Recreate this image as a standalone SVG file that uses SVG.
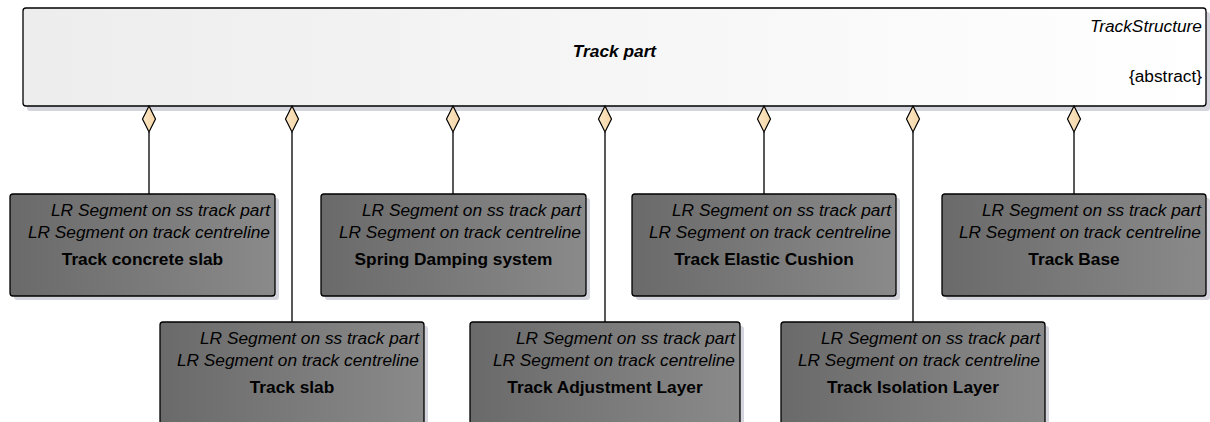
<svg xmlns="http://www.w3.org/2000/svg" width="1210" height="422" viewBox="0 0 1210 422">
<defs>
<linearGradient id="gTop" x1="0" y1="0" x2="1" y2="0">
<stop offset="0" stop-color="#ededed"/>
<stop offset="1" stop-color="#ffffff"/>
</linearGradient>
<linearGradient id="gBox" x1="0" y1="0" x2="1" y2="0">
<stop offset="0" stop-color="#6a6a6a"/>
<stop offset="1" stop-color="#8a8a8a"/>
</linearGradient>
<linearGradient id="gDia" x1="0" y1="0" x2="1" y2="0">
<stop offset="0" stop-color="#fbe6c6"/>
<stop offset="1" stop-color="#f5d6a6"/>
</linearGradient>
</defs>
<style>
.top{fill:url(#gTop);stroke:#000;stroke-width:1.3}
.box{fill:url(#gBox);stroke:#000;stroke-width:1.3}
.shd{fill:#d4d4dc}
.it{font-family:"Liberation Sans",Arial,sans-serif;font-style:italic;font-size:17.3px;fill:#000;text-anchor:end}
.ttl{font-family:"Liberation Sans",Arial,sans-serif;font-weight:bold;font-size:17.3px;fill:#000;text-anchor:middle}
.ab{font-family:"Liberation Sans",Arial,sans-serif;font-size:17.3px;fill:#000;text-anchor:end}
.ln{stroke:#000;stroke-width:1.3;fill:none}
.dia{fill:url(#gDia);stroke:#000;stroke-width:1.2}
</style>
<rect x="0" y="0" width="1210" height="422" fill="#fff"/>
<g id="TrackPart">
<rect class="shd" x="27" y="12" width="1183" height="99" rx="3"/>
<rect class="top" x="23" y="8" width="1183" height="98" rx="3"/>
<text class="it" x="1202" y="32">TrackStructure</text>
<text class="ttl" x="614.5" y="57" font-style="italic">Track part</text>
<text class="ab" x="1202" y="82">{abstract}</text>
</g>
<g id="connectors">
<path class="ln" d="M149 132V194M292 132V322M453 132V194M605 132V322M764 132V194M913 132V322M1074 132V194"/>
<path class="dia" d="M149 106L155.5 119L149 132L142.5 119Z"/>
<path class="dia" d="M292 106L298.5 119L292 132L285.5 119Z"/>
<path class="dia" d="M453 106L459.5 119L453 132L446.5 119Z"/>
<path class="dia" d="M605 106L611.5 119L605 132L598.5 119Z"/>
<path class="dia" d="M764 106L770.5 119L764 132L757.5 119Z"/>
<path class="dia" d="M913 106L919.5 119L913 132L906.5 119Z"/>
<path class="dia" d="M1074 106L1080.5 119L1074 132L1067.5 119Z"/>
</g>
<g id="TrackConcreteSlab">
<rect class="shd" x="14" y="198" width="265" height="102" rx="3"/>
<rect class="box" x="10" y="194" width="265" height="102" rx="3"/>
<text class="it" x="270" y="216">LR Segment on ss track part</text>
<text class="it" x="270" y="238">LR Segment on track centreline</text>
<text class="ttl" x="142.5" y="265">Track concrete slab</text>
</g>
<g id="SpringDampingSystem">
<rect class="shd" x="325" y="198" width="265" height="102" rx="3"/>
<rect class="box" x="321" y="194" width="265" height="102" rx="3"/>
<text class="it" x="581" y="216">LR Segment on ss track part</text>
<text class="it" x="581" y="238">LR Segment on track centreline</text>
<text class="ttl" x="453.5" y="265">Spring Damping system</text>
</g>
<g id="TrackElasticCushion">
<rect class="shd" x="636" y="198" width="264" height="102" rx="3"/>
<rect class="box" x="632" y="194" width="264" height="102" rx="3"/>
<text class="it" x="891" y="216">LR Segment on ss track part</text>
<text class="it" x="891" y="238">LR Segment on track centreline</text>
<text class="ttl" x="764" y="265">Track Elastic Cushion</text>
</g>
<g id="TrackBase">
<rect class="shd" x="946" y="198" width="264" height="102" rx="3"/>
<rect class="box" x="942" y="194" width="264" height="102" rx="3"/>
<text class="it" x="1201" y="216">LR Segment on ss track part</text>
<text class="it" x="1201" y="238">LR Segment on track centreline</text>
<text class="ttl" x="1074" y="265">Track Base</text>
</g>
<g id="TrackSlab">
<rect class="shd" x="164" y="326" width="264" height="110" rx="3"/>
<rect class="box" x="160" y="322" width="264" height="110" rx="3"/>
<text class="it" x="419" y="344">LR Segment on ss track part</text>
<text class="it" x="419" y="366">LR Segment on track centreline</text>
<text class="ttl" x="292" y="393">Track slab</text>
</g>
<g id="TrackAdjustmentLayer">
<rect class="shd" x="474" y="326" width="270" height="110" rx="3"/>
<rect class="box" x="470" y="322" width="270" height="110" rx="3"/>
<text class="it" x="735" y="344">LR Segment on ss track part</text>
<text class="it" x="735" y="366">LR Segment on track centreline</text>
<text class="ttl" x="605" y="393">Track Adjustment Layer</text>
</g>
<g id="TrackIsolationLayer">
<rect class="shd" x="785" y="326" width="264" height="110" rx="3"/>
<rect class="box" x="781" y="322" width="264" height="110" rx="3"/>
<text class="it" x="1040" y="344">LR Segment on ss track part</text>
<text class="it" x="1040" y="366">LR Segment on track centreline</text>
<text class="ttl" x="913" y="393">Track Isolation Layer</text>
</g>
</svg>
